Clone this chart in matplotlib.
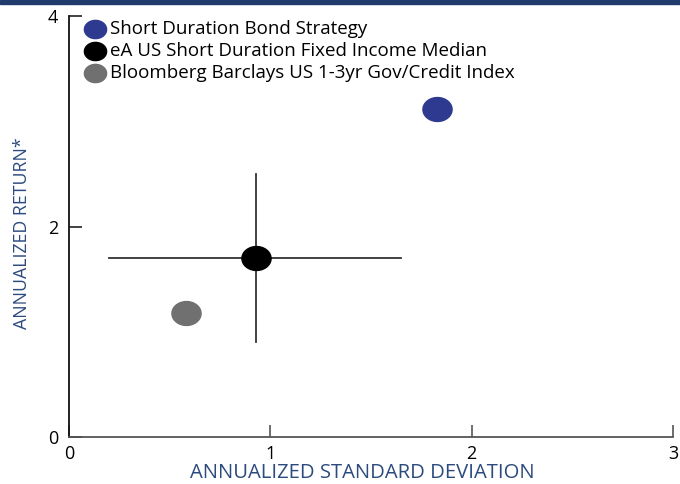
import matplotlib
matplotlib.use("Agg")
import matplotlib.pyplot as plt
import numpy as np
from matplotlib.path import Path
from matplotlib.lines import Line2D
from matplotlib.patches import Rectangle

plt.rcParams['font.family'] = ['Open Sans', 'DejaVu Sans']

series_names = ["Short Duration Bond Strategy",
                "eA US Short Duration Fixed Income Median",
                "Bloomberg Barclays US 1-3yr Gov/Credit Index"]
std_dev = [1.83, 0.93, 0.58]
returns = [3.12, 1.70, 1.18]
colors = ["#2E3A8F", "#000000", "#707070"]

# range bars for the median
median_x_range = [0.20, 1.65]
median_y_range = [0.90, 2.50]

x_ticks = [0, 1, 2, 3]
y_ticks = [0, 2, 4]

W, H = 680, 484
fig = plt.figure(figsize=(6.8, 4.84), dpi=100)
ax = fig.add_axes([69/W, 1-437/H, (673-69)/W, (437-16)/H])

# ellipse marker
t = np.linspace(0, 2*np.pi, 60)
ell = Path(np.column_stack([np.cos(t), 0.82*np.sin(t)]))

ax.plot(median_x_range, [returns[1]]*2, color="#333333", lw=1.3, zorder=2)
ax.plot([std_dev[1]]*2, median_y_range, color="#333333", lw=1.3, zorder=2)

for x, y, c in zip(std_dev, returns, colors):
    ax.plot([x], [y], marker=ell, markersize=21, color=c, linestyle='none', zorder=3)

ax.set_xlim(0, 3)
ax.set_ylim(0, 4)
ax.set_xticks(x_ticks)
ax.set_yticks(y_ticks)
ax.set_xticklabels([str(v) for v in x_ticks], fontsize=13)
ax.set_yticklabels([str(v) for v in y_ticks], fontsize=13)
ax.tick_params(axis='x', direction='in', length=9, width=1.2, color="#555555", pad=6)
ax.tick_params(axis='y', direction='in', length=9, width=1.2, color="#222222", pad=8)
ax.spines['top'].set_visible(False)
ax.spines['right'].set_visible(False)
ax.spines['left'].set_color("#111111")
ax.spines['left'].set_linewidth(1.3)
ax.spines['bottom'].set_color("#555555")
ax.spines['bottom'].set_linewidth(1.3)

label_color = "#2B4A7E"
ax.set_xlabel("ANNUALIZED STANDARD DEVIATION", fontsize=14.6, color=label_color,
              va='bottom')
ax.xaxis.set_label_coords((362-69)/604, (437-483)/421)
ax.set_ylabel("ANNUALIZED RETURN*", fontsize=12.8, color=label_color, va='center')
ax.yaxis.set_label_coords((22-69)/604, (437-233)/421)

# legend (manual, top-left)
legend_rows = [29, 51, 73]
for name, c, ypx in zip(series_names, colors, legend_rows):
    fig.add_artist(Line2D([95/W], [1-ypx/H], transform=fig.transFigure,
                          marker=ell, markersize=16, color=c, linestyle='none'))
    fig.text(110/W, 1-ypx/H, name, fontsize=13.5, color="black",
             ha='left', va='center')

# top banner bar
fig.patches.append(Rectangle((0, 1-4/H), 1, 4/H, transform=fig.transFigure,
                             color="#1F3A6B", zorder=0))

fig.savefig("out.png", dpi=100)
